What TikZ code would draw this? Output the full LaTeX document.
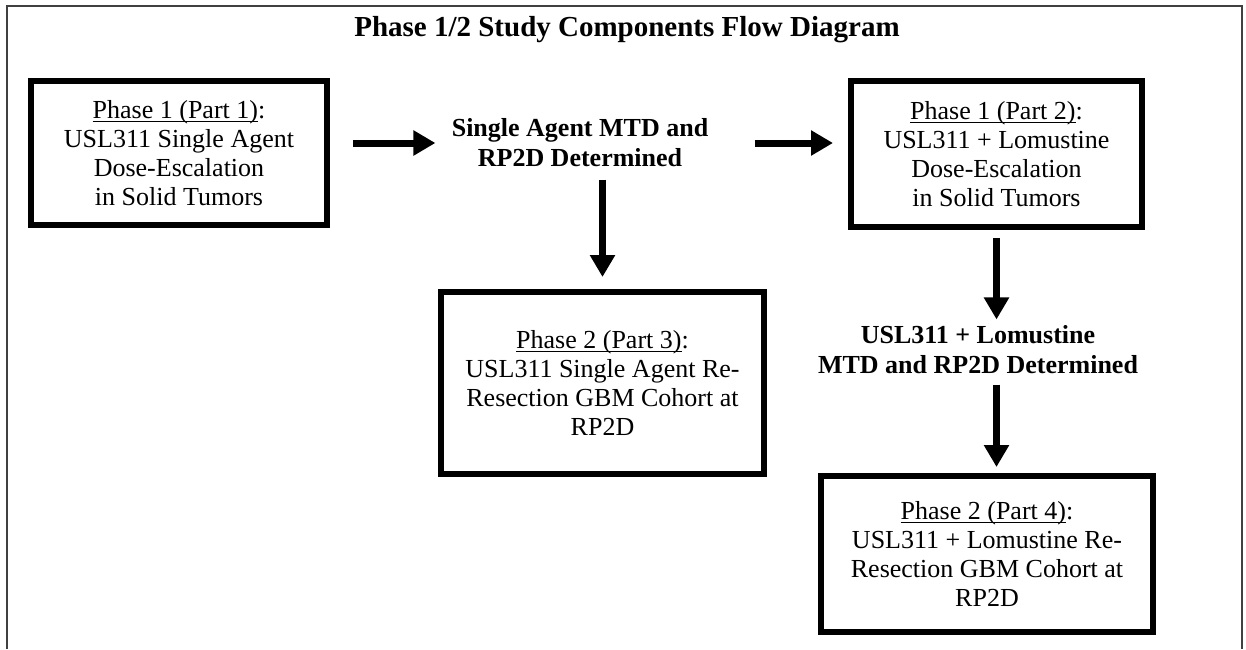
\documentclass[tikz,border=0pt]{standalone}
\usepackage{fontspec}
\setmainfont{Liberation Serif}
\usetikzlibrary{arrows.meta}

% underline close to the baseline
\newcommand{\phul}[1]{\setbox0\hbox{#1}\rlap{\rule[-1.7pt]{\wd0}{0.55pt}}\box0}

\begin{document}
\begin{tikzpicture}[
		x = 0.5pt,
		y = -0.5pt,
		pb/.style = {
			draw,
			rectangle,
			line width = 3pt,
			align = center,
			inner sep = 0,
			font = \fontsize{13}{14.5}\selectfont
		},
		rl/.style = {
			align = center,
			inner sep = 0,
			font = \fontsize{13}{15}\selectfont\bfseries
		},
		ar/.style = {
			line width = 3.5pt,
			-{Triangle[length = 11pt, width = 12pt]}
		}
	]
	\useasboundingbox (0, 0) rectangle (1246, 649);
	\draw [line width = 1pt, black!75] (7, 649) -- (7, 6) -- (1242, 6) -- (1242, 649);

	\node [font = \fontsize{14.5}{17}\selectfont\bfseries] (title) at (627, 30) {Phase 1/2 Study Components Flow Diagram};

	\node [pb, minimum width = 148pt, minimum height = 72pt] (p1) at (179, 153)
		{\phul{Phase 1 (Part 1)}:\\USL311 Single Agent\\Dose-Escalation\\in Solid Tumors};
	\node [pb, minimum width = 145.5pt, minimum height = 73pt] (p2) at (996.5, 154)
		{\phul{Phase 1 (Part 2)}:\\USL311 + Lomustine\\Dose-Escalation\\in Solid Tumors};
	\node [pb, minimum width = 161.5pt, minimum height = 91pt] (p3) at (602.5, 383)
		{\phul{Phase 2 (Part 3)}:\\USL311 Single Agent Re-\\Resection GBM Cohort at\\RP2D};
	\node [pb, minimum width = 166pt, minimum height = 78pt] (p4) at (987, 554)
		{\phul{Phase 2 (Part 4)}:\\USL311 + Lomustine Re-\\Resection GBM Cohort at\\RP2D};

	\node [rl] (sa) at (580, 143) {Single Agent MTD and\\RP2D Determined};
	\node [rl] (ul) at (978, 350) {USL311 + Lomustine\\MTD and RP2D Determined};

	\draw [ar, shorten < = 11.5pt, shorten > = 8pt] (p1.east |- sa.west) -- (sa.west);
	\draw [ar, shorten < = 23pt, shorten > = 7.5pt] (sa.east) -- (p2.west |- sa.east);
	\draw [ar, shorten < = 6pt, shorten > = 6pt] (sa.south -| p3.north) -- (p3.north);
	\draw [ar, shorten < = 4pt, shorten > = 3pt] (p2.south) -- (p2.south |- ul.north);
	\draw [ar, shorten < = 5pt, shorten > = 3pt] (ul.south -| p2.south) -- (p4.north -| p2.south);
\end{tikzpicture}
\end{document}
